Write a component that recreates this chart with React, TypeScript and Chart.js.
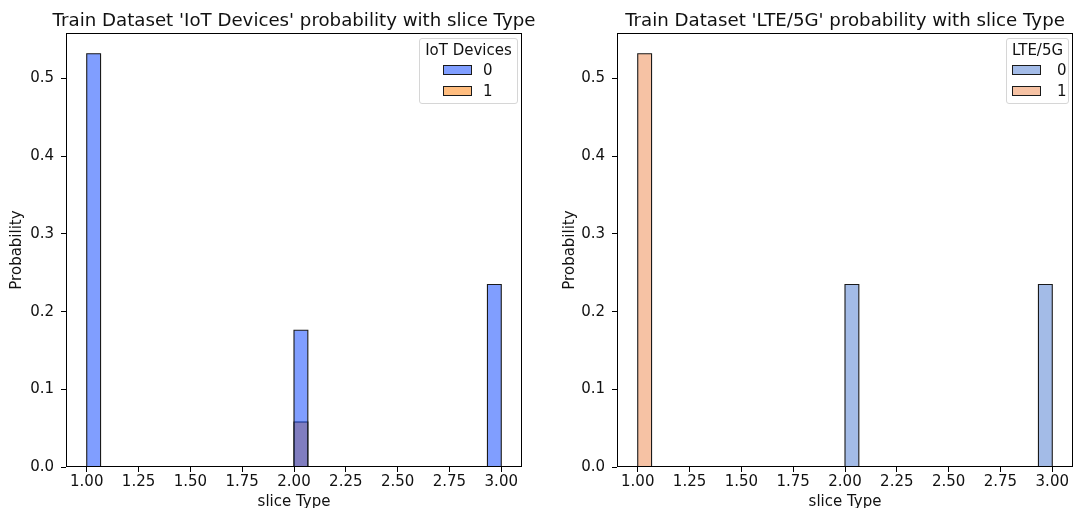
import React, { useEffect, useRef } from "react";
import { Chart, registerables } from "chart.js";

Chart.register(...registerables);

// ---- data ----
const binStarts = [1.0, 2.0, 2.9333];
const binWidth = 0.0667;
const xTicks = [1.0, 1.25, 1.5, 1.75, 2.0, 2.25, 2.5, 2.75, 3.0];
const yTicks = [0.0, 0.1, 0.2, 0.3, 0.4, 0.5];
const xMin = 0.9;
const xMax = 3.1;
const yMax = 0.5586;

const hueLabels = ["0", "1"];
const iotDevices0 = [0.532, 0.176, 0.235];
const iotDevices1 = [0, 0.058, 0];
const lte5g0 = [0, 0.235, 0.235];
const lte5g1 = [0.532, 0, 0];

const FONT = "DejaVu Sans";
const TEXT = "#111";
const FS = 15;

type Series = { label: string; values: number[]; color: string };
type Panel = {
  title: string;
  legendTitle: string;
  series: Series[];
  canvasLeft: number;
  canvasWidth: number;
  axisWidth: number;
  padRight: number;
  yTitlePad: number;
  legend: { left: number; top: number; width: number; height: number; patchLeft: number; labelLeft: number };
};

const panels: Panel[] = [
  {
    title: "Train Dataset 'IoT Devices' probability with slice Type",
    legendTitle: "IoT Devices",
    series: [
      { label: hueLabels[0], values: iotDevices0, color: "rgba(2,62,255,0.5)" },
      { label: hueLabels[1], values: iotDevices1, color: "rgba(255,124,0,0.5)" },
    ],
    canvasLeft: 0,
    canvasWidth: 588,
    axisWidth: 66,
    padRight: 66,
    yTitlePad: 8,
    legend: { left: 419, top: 38, width: 99, height: 66, patchLeft: 23, labelLeft: 63 },
  },
  {
    title: "Train Dataset 'LTE/5G' probability with slice Type",
    legendTitle: "LTE/5G",
    series: [
      { label: hueLabels[0], values: lte5g0, color: "rgba(72,120,208,0.5)" },
      { label: hueLabels[1], values: lte5g1, color: "rgba(238,133,74,0.5)" },
    ],
    canvasLeft: 545,
    canvasWidth: 600,
    axisWidth: 72,
    padRight: 72,
    yTitlePad: 16,
    legend: { left: 1006, top: 38, width: 63, height: 66, patchLeft: 5, labelLeft: 50 },
  },
];

const framePlugin = {
  id: "frame",
  afterDatasetsDraw(chart: any) {
    const { ctx, chartArea } = chart;
    const l = Math.round(chartArea.left);
    const t = Math.round(chartArea.top);
    const r = Math.round(chartArea.right);
    const b = Math.round(chartArea.bottom);
    ctx.save();
    ctx.strokeStyle = "#000";
    ctx.lineWidth = 1;
    ctx.strokeRect(l + 0.5, t + 0.5, r - l - 1, b - t - 1);
    ctx.restore();
  },
};

function buildDatasets(series: Series[]) {
  const ds: any[] = [];
  series.forEach((s, si) => {
    s.values.forEach((v, i) => {
      if (v <= 0) return;
      const x0 = binStarts[i];
      const x1 = x0 + binWidth;
      ds.push({
        label: s.label,
        data: [
          { x: x0, y: 0 },
          { x: x0, y: v },
          { x: x1, y: v },
          { x: x1, y: 0 },
        ],
        fill: "origin",
        backgroundColor: s.color,
        borderColor: "#1a1a1a",
        borderWidth: 1.1,
        pointRadius: 0,
        tension: 0,
        order: si,
        yAxisID: "y",
      });
    });
  });
  return ds;
}

function HistPanel({ p }: { p: Panel }) {
  const ref = useRef<HTMLCanvasElement | null>(null);
  useEffect(() => {
    if (!ref.current) return;
    const font = { family: FONT, size: FS, lineHeight: 1.2 };
    const chart = new Chart(ref.current, {
      type: "line",
      data: { datasets: buildDatasets(p.series) },
      plugins: [framePlugin],
      options: {
        responsive: false,
        animation: false,
        devicePixelRatio: 1,
        layout: { padding: 0 },
        plugins: {
          legend: { display: false },
          tooltip: { enabled: false },
          title: {
            display: true,
            text: p.title,
            color: TEXT,
            font: { family: FONT, size: 18.2, weight: "normal", lineHeight: 1.2 },
            padding: { top: 10, bottom: 1.2 },
          },
        },
        scales: {
          x: {
            type: "linear",
            position: "bottom",
            min: xMin,
            max: xMax,
            afterBuildTicks: (s: any) => {
              s.ticks = xTicks.map((v) => ({ value: v }));
            },
            afterFit: (s: any) => {
              s.height = 41;
            },
            grid: { display: true, drawOnChartArea: false, drawTicks: true, tickLength: 5, color: "#000" },
            border: { display: false },
            ticks: {
              autoSkip: false,
              maxRotation: 0,
              padding: 1,
              color: TEXT,
              font,
              callback: (v: any) => Number(v).toFixed(2),
            },
            title: {
              display: true,
              text: "slice Type",
              color: TEXT,
              font: { family: FONT, size: FS, lineHeight: 0.8 },
              padding: { top: 0, bottom: 0 },
            },
          },
          y: {
            type: "linear",
            position: "left",
            min: 0,
            max: yMax,
            afterBuildTicks: (s: any) => {
              s.ticks = yTicks.map((v) => ({ value: v }));
            },
            afterFit: (s: any) => {
              s.width = p.axisWidth;
            },
            grid: { display: true, drawOnChartArea: false, drawTicks: true, tickLength: 5, color: "#000" },
            border: { display: false },
            ticks: {
              padding: 7,
              color: TEXT,
              font,
              callback: (v: any) => Number(v).toFixed(1),
            },
            title: { display: true, text: "Probability", color: TEXT, font, padding: { top: p.yTitlePad, bottom: 0 } },
          },
          yPad: {
            type: "linear",
            position: "right",
            display: true,
            min: 0,
            max: yMax,
            grid: { display: false, drawTicks: false },
            border: { display: false },
            ticks: { display: false },
            afterFit: (s: any) => {
              s.width = p.padRight;
            },
          },
        },
      } as any,
    });
    return () => chart.destroy();
  }, [p]);

  const lg = p.legend;
  const textStyle: React.CSSProperties = {
    position: "absolute",
    fontFamily: FONT,
    fontSize: FS,
    lineHeight: "18px",
    color: TEXT,
    whiteSpace: "nowrap",
  };
  return (
    <>
      <canvas
        ref={ref}
        width={p.canvasWidth}
        height={508}
        style={{ position: "absolute", left: p.canvasLeft, top: 0, width: p.canvasWidth, height: 508 }}
      />
      <div
        style={{
          position: "absolute",
          left: lg.left,
          top: lg.top,
          width: lg.width,
          height: lg.height,
          boxSizing: "border-box",
          border: "1px solid #d6d6d6",
          borderRadius: 3,
          background: "rgba(255,255,255,0.8)",
        }}
      >
        <div style={{ ...textStyle, left: 0, width: lg.width - 2, top: 2, textAlign: "center" }}>{p.legendTitle}</div>
        {p.series.map((s, i) => (
          <React.Fragment key={s.label}>
            <div
              style={{
                position: "absolute",
                left: lg.patchLeft,
                top: 26 + i * 21,
                width: 29,
                height: 10,
                boxSizing: "border-box",
                border: "1.1px solid #1a1a1a",
                background: s.color,
              }}
            />
            <div style={{ ...textStyle, left: lg.labelLeft, top: 22 + i * 21 }}>{s.label}</div>
          </React.Fragment>
        ))}
      </div>
    </>
  );
}

export default function App() {
  return (
    <div
      style={{
        position: "fixed",
        left: 0,
        top: 0,
        width: 1075,
        height: 508,
        overflow: "hidden",
        background: "#fff",
      }}
    >
      {panels.map((p) => (
        <HistPanel key={p.title} p={p} />
      ))}
    </div>
  );
}
